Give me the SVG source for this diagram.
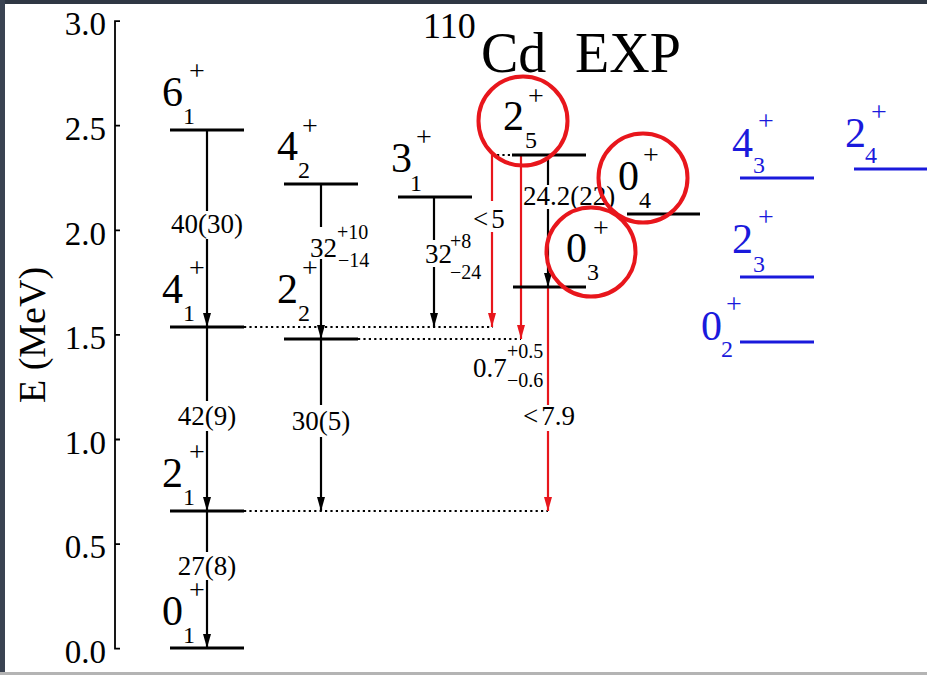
<svg xmlns="http://www.w3.org/2000/svg" width="927" height="675" viewBox="0 0 927 675" font-family="'Liberation Serif','Times New Roman',serif">
<defs>
<style>
text{font-family:"Liberation Serif","Times New Roman",serif;fill:#000}
.d{font-size:42px}
.p{font-size:28px}
.s{font-size:24px}
.n{font-size:27px}
.ns{font-size:20px}
.tk{font-size:33px;text-anchor:end}
.mid{text-anchor:middle}
.lv{stroke:#000;stroke-width:3}
.bl{stroke:#1a1adc;stroke-width:3}
.blt{fill:#1a1adc}
.ar{stroke:#000;stroke-width:2.2;fill:none}
.rr{stroke:#e8161c;stroke-width:2.2;fill:none}
.dot{stroke:#000;stroke-width:2.2;stroke-dasharray:2.2 3.2}
.circ{fill:none;stroke:#e8161c;stroke-width:4}
.ax{stroke:#000;stroke-width:1.8;fill:none}
</style>
<marker id="mb" viewBox="0 0 14 8" markerWidth="14" markerHeight="8" refX="14" refY="4" orient="auto" markerUnits="userSpaceOnUse"><path d="M0,0L14,4L0,8z" fill="#000"/></marker>
<marker id="mr" viewBox="0 0 14 8" markerWidth="14" markerHeight="8" refX="14" refY="4" orient="auto" markerUnits="userSpaceOnUse"><path d="M0,0L14,4L0,8z" fill="#e8161c"/></marker>
</defs>
<rect x="0" y="0" width="927" height="675" fill="#fff"/>
<rect x="0" y="0" width="927" height="4" fill="#2f3744"/>
<rect x="0" y="0" width="5" height="675" fill="#3a4352"/>
<rect x="0" y="672" width="927" height="3" fill="#b4b4b4"/>

<g id="axis">
<path class="ax" d="M120,21.1H115V648.7H120M115,125.7H120M115,230.3H120M115,334.9H120M115,439.5H120M115,544.1H120"/>
<text class="tk" x="106" y="35">3.0</text>
<text class="tk" x="106" y="139.5">2.5</text>
<text class="tk" x="106" y="244.5">2.0</text>
<text class="tk" x="106" y="349">1.5</text>
<text class="tk" x="106" y="453.5">1.0</text>
<text class="tk" x="106" y="558">0.5</text>
<text class="tk" x="106" y="662.5">0.0</text>
<text x="0" y="0" font-size="38" text-anchor="middle" transform="translate(45,335) rotate(-90)">E (MeV)</text>
</g>

<g id="title">
<text x="423" y="38" font-size="36">110</text>
<text x="481" y="72" font-size="56">Cd</text>
<text x="575" y="72" font-size="56">EXP</text>
</g>

<g id="connectors">
<line class="dot" x1="244" y1="327" x2="493" y2="327"/>
<line class="dot" x1="358" y1="339" x2="521" y2="339"/>
<line class="dot" x1="244" y1="511" x2="548" y2="511"/>
<line class="dot" x1="497" y1="155" x2="512" y2="155"/>
<line class="ar" x1="207" y1="130" x2="207" y2="211"/>
<line class="ar" x1="207" y1="239" x2="207" y2="327" marker-end="url(#mb)"/>
<text class="n mid" x="207" y="233">40(30)</text>
<line class="ar" x1="207" y1="327" x2="207" y2="401"/>
<line class="ar" x1="207" y1="431" x2="207" y2="511" marker-end="url(#mb)"/>
<text class="n mid" x="207" y="425">42(9)</text>
<line class="ar" x1="207" y1="511" x2="207" y2="552"/>
<line class="ar" x1="207" y1="580" x2="207" y2="648" marker-end="url(#mb)"/>
<text class="n mid" x="207" y="575">27(8)</text>
<line class="ar" x1="321" y1="184" x2="321" y2="227"/>
<line class="ar" x1="321" y1="259" x2="321" y2="339" marker-end="url(#mb)"/>
<text class="n" x="310" y="257">32</text>
<text class="ns" x="337" y="239">+10</text>
<text class="ns" x="338" y="267">−14</text>
<line class="ar" x1="321" y1="339" x2="321" y2="405"/>
<line class="ar" x1="321" y1="437" x2="321" y2="511" marker-end="url(#mb)"/>
<text class="n mid" x="321" y="430">30(5)</text>
<line class="ar" x1="434" y1="197" x2="434" y2="240"/>
<line class="ar" x1="434" y1="267" x2="434" y2="327" marker-end="url(#mb)"/>
<text class="n" x="425" y="263">32</text>
<text class="ns" x="450" y="248">+8</text>
<text class="ns" x="450" y="279">−24</text>
<line class="rr" x1="492" y1="155" x2="492" y2="201"/>
<line class="rr" x1="492" y1="232" x2="492" y2="327" marker-end="url(#mr)"/>
<text class="n" x="473" y="228">&lt;<tspan dx="3">5</tspan></text>
<line class="rr" x1="521" y1="155" x2="521" y2="339" marker-end="url(#mr)"/>
<text class="n" x="473" y="377">0.7</text>
<text class="ns" x="507" y="358">+0.5</text>
<text class="ns" x="507" y="387">−0.6</text>
<line class="ar" x1="548" y1="155" x2="548" y2="185"/>
<line class="ar" x1="548" y1="209" x2="548" y2="287" marker-end="url(#mb)"/>
<text class="n" x="523" y="205">24.2(22)</text>
<line class="rr" x1="548" y1="287" x2="548" y2="405"/>
<line class="rr" x1="548" y1="431" x2="548" y2="511" marker-end="url(#mr)"/>
<text class="n" x="523" y="425">&lt;<tspan dx="3">7.9</tspan></text>
</g>

<g id="L6_1"><line class="lv" x1="170" y1="130" x2="244" y2="130"/><text class="d" x="162" y="106">6</text><text class="p" x="189" y="80">+</text><text class="s" x="183" y="124">1</text></g>
<g id="L4_1"><line class="lv" x1="170" y1="327" x2="244" y2="327"/><text class="d" x="162" y="303">4</text><text class="p" x="189" y="277">+</text><text class="s" x="183" y="321">1</text></g>
<g id="L2_1"><line class="lv" x1="170" y1="511" x2="244" y2="511"/><text class="d" x="162" y="487">2</text><text class="p" x="189" y="461">+</text><text class="s" x="183" y="505">1</text></g>
<g id="L0_1"><line class="lv" x1="170" y1="648" x2="244" y2="648" stroke-width="2"/><text class="d" x="162" y="625">0</text><text class="p" x="189" y="599">+</text><text class="s" x="183" y="643">1</text></g>
<g id="L4_2"><line class="lv" x1="284" y1="184" x2="358" y2="184"/><text class="d" x="277" y="160">4</text><text class="p" x="302" y="135">+</text><text class="s" x="298" y="178">2</text></g>
<g id="L2_2"><line class="lv" x1="284" y1="339" x2="358" y2="339"/><text class="d" x="277" y="303">2</text><text class="p" x="302" y="277">+</text><text class="s" x="298" y="321">2</text></g>
<g id="L3_1"><line class="lv" x1="398" y1="197" x2="472" y2="197"/><text class="d" x="391" y="172">3</text><text class="p" x="416" y="146">+</text><text class="s" x="410" y="191">1</text></g>
<g id="L2_5"><line class="lv" x1="512" y1="155" x2="586" y2="155"/><text class="d" x="503" y="130">2</text><text class="p" x="528" y="105">+</text><text class="s" x="525" y="148">5</text><circle class="circ" cx="523" cy="121" r="44.5"/></g>
<g id="L0_3"><line class="lv" x1="513" y1="287" x2="586" y2="287"/><text class="d" x="566" y="262">0</text><text class="p" x="593" y="237">+</text><text class="s" x="587" y="280">3</text><circle class="circ" cx="591" cy="252" r="44.5"/></g>
<g id="L0_4"><line class="lv" x1="627" y1="214" x2="700" y2="214"/><text class="d" x="618" y="190">0</text><text class="p" x="643" y="164">+</text><text class="s" x="639" y="208">4</text><circle class="circ" cx="643" cy="178" r="44.5"/></g>

<g id="L4_3"><line class="bl" x1="740" y1="178" x2="814" y2="178"/><text class="d blt" x="732" y="157">4</text><text class="p blt" x="758" y="130">+</text><text class="s blt" x="753" y="173">3</text></g>
<g id="L2_3"><line class="bl" x1="740" y1="277" x2="814" y2="277"/><text class="d blt" x="732" y="253">2</text><text class="p blt" x="758" y="226">+</text><text class="s blt" x="753" y="272">3</text></g>
<g id="L0_2"><line class="bl" x1="740" y1="342" x2="814" y2="342"/><text class="d blt" x="701" y="340">0</text><text class="p blt" x="726" y="313">+</text><text class="s blt" x="721" y="357">2</text></g>
<g id="L2_4"><line class="bl" x1="854" y1="169" x2="927" y2="169"/><text class="d blt" x="845" y="147">2</text><text class="p blt" x="871" y="121">+</text><text class="s blt" x="865" y="163">4</text></g>
</svg>
